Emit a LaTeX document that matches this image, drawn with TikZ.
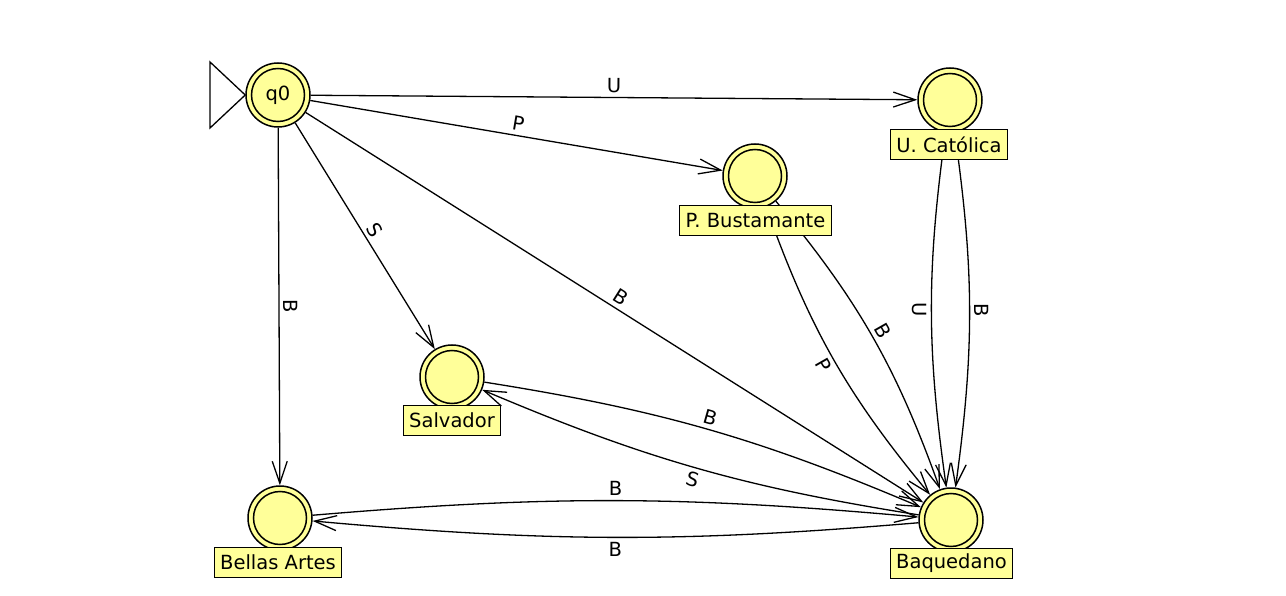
\documentclass[tikz,border=0pt]{standalone}
\usepackage{fontspec}
\setmainfont{DejaVu Sans}
\usetikzlibrary{arrows.meta}
\pgfdeclarelayer{bg}
\pgfsetlayers{bg,main}
\definecolor{stfill}{RGB}{255,255,153}
\begin{document}
\begin{tikzpicture}[x=1pt,y=1pt,
  state/.style={circle, draw, line width=1.5pt, fill=stfill, minimum size=64pt, inner sep=0pt,
    font=\fontsize{19.5}{22}\selectfont,
    path picture={\draw[line width=1.5pt] (path picture bounding box.center) circle[radius=26.5pt];}},
  tag/.style={rectangle, draw, line width=1pt, fill=stfill, minimum height=30pt,
    inner xsep=6pt, inner ysep=0pt, font=\fontsize{19.5}{22}\selectfont},
  tr/.style={line width=1.3pt, -{Straight Barb[length=22pt,width=15pt,line width=1.3pt]}},
  lab/.style={sloped, font=\fontsize{19.5}{22}\selectfont, inner sep=4pt}
]
\useasboundingbox (0,0) rectangle (1286,-596);
% states
\node[state] (q0) at (278,-95) {q0};
\node[state] (uc) at (950,-100) {};
\node[state] (pb) at (755,-176) {};
\node[state] (sa) at (452,-377) {};
\node[state] (ba) at (280,-518) {};
\node[state] (bq) at (951,-520) {};
% name tags
\node[tag] (tuc) at (949,-145) {U. Católica};
\node[tag] (tpb) at (755.5,-221) {P. Bustamante};
\node[tag] (tsa) at (452,-420.5) {Salvador};
\node[tag] (tba) at (278,-562.5) {Bellas Artes};
\node[tag] (tbq) at (951.5,-563) {Baquedano};
\begin{pgfonlayer}{bg}
% initial marker
\draw[line width=1.3pt, fill=white] (210,-62) -- (210,-128) -- (q0.west) -- cycle;
% transitions
\draw[tr] (q0) -- node[lab,above]{U} (uc);
\draw[tr] (q0) -- node[lab,above]{P} (pb);
\draw[tr] (q0) -- node[lab,above]{S} (sa);
\draw[tr] (q0) -- node[lab,above]{B} (bq);
\draw[tr] (q0) -- node[lab,above]{B} (ba);
\draw[tr] (uc) to[bend left=8] node[lab,above]{B} (bq);
\draw[tr] (uc) to[bend right=8] node[lab,below]{U} (bq);
\draw[tr] (pb) to[bend left=10] node[lab,above]{B} (bq);
\draw[tr] (pb) to[bend right=10] node[lab,below]{P} (bq);
\draw[tr] (sa) to[bend left=7] node[lab,above]{B} (bq);
\draw[tr] (bq) to[bend left=7] node[lab,below]{S} (sa);
\draw[tr] (ba) to[bend left=5] node[lab,above]{B} (bq);
\draw[tr] (bq) to[bend left=5] node[lab,below]{B} (ba);
\end{pgfonlayer}
\end{tikzpicture}
\end{document}
